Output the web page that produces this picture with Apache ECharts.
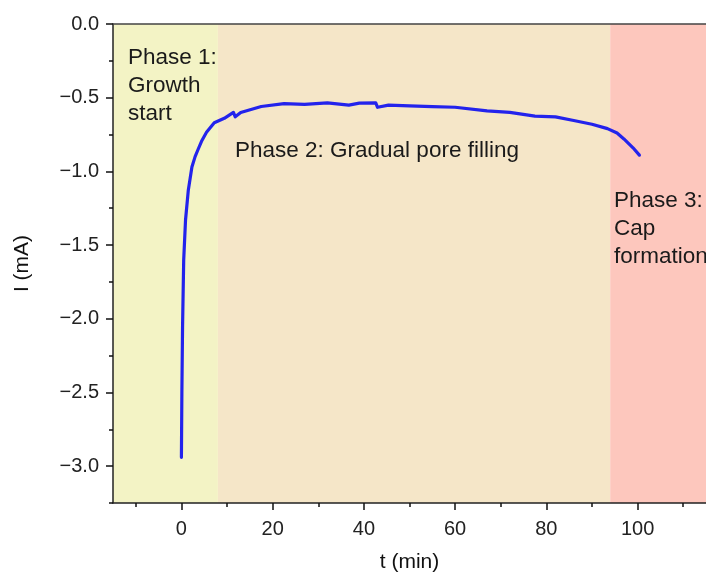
<!DOCTYPE html>
<html>
  <meta charset="UTF-8">
  <title>I(t) - growth phases</title>
  <style type="text/css">
    html,body{margin:0px;height:100%;width:100%;background:#fff}
    #chart{width:706px;height:576px}
  </style>
  <script type="text/javascript" src="https://cdn.jsdelivr.net/npm/echarts@6/dist/echarts.min.js"></script>
  <body>
    <div id="chart"></div>

    <script>
      // time (min) and current (mA)
      var tValues = [0, 0.1, 0.25, 0.5, 0.9, 1.5, 2.3, 3.0, 3.6, 4.5, 5.5, 7.2, 9.4, 11.4, 11.8, 13,
                     17.5, 22.5, 27, 32, 36.7, 39, 42.6, 43, 45.4, 50, 55, 60, 67, 72, 77.5,
                     82, 86, 90, 93.4, 95.5, 97, 99, 100.4];
      var iValues = [-2.94, -2.5, -2.05, -1.6, -1.33, -1.13, -0.97, -0.9, -0.855, -0.79, -0.735, -0.67, -0.64, -0.60, -0.63, -0.60,
                     -0.56, -0.54, -0.545, -0.535, -0.55, -0.537, -0.535, -0.565, -0.55, -0.555, -0.56, -0.565, -0.59, -0.60, -0.625,
                     -0.63, -0.655, -0.68, -0.71, -0.74, -0.78, -0.84, -0.89];

      var xTicks = [0, 20, 40, 60, 80, 100];
      var xMinorTicks = [-10, 10, 30, 50, 70, 90, 110];
      var yTicks = [0, -0.5, -1.0, -1.5, -2.0, -2.5, -3.0];
      var yMinorTicks = [-0.25, -0.75, -1.25, -1.75, -2.25, -2.75, -3.25];

      var phaseBounds = [-15, 8, 94, 115];
      var phaseColors = ['#f3f3c5', '#f5e6c8', '#fdc7bd'];
      var phaseLabels = ['Phase 1:\nGrowth\nstart', 'Phase 2: Gradual pore filling', 'Phase 3:\nCap\nformation'];

      var font = 'Liberation Sans';
      var points = tValues.map(function (t, i) { return [t, iValues[i]]; });

      var chart = echarts.init(document.getElementById('chart'));

      function minus(v) {
        return String(v).replace('-', '\u2212');
      }

      var areas = [];
      for (var k = 0; k < phaseColors.length; k++) {
        areas.push([
          { xAxis: phaseBounds[k], itemStyle: { color: phaseColors[k] } },
          { xAxis: phaseBounds[k + 1] }
        ]);
      }

      var hidden = { show: false };
      var tickStyle = { color: '#111', width: 1.5 };
      var phaseFont = '22.5px ' + font;

      var option = {
        animation: false,
        backgroundColor: '#fff',
        textStyle: { fontFamily: font },
        grid: { left: 113, top: 24, right: 0, bottom: 73, outerBoundsMode: 'none', containLabel: false },
        xAxis: [
          {
            type: 'value', min: -15, max: 115, z: 10, position: 'bottom',
            name: 't (min)', nameLocation: 'middle', nameGap: 49,
            nameTextStyle: { fontSize: 21, color: '#111' },
            axisLine: { onZero: false, lineStyle: { color: '#222', width: 1.5 } },
            axisTick: { customValues: xTicks, length: 7, lineStyle: tickStyle },
            axisLabel: {
              customValues: xTicks, fontSize: 20, color: '#222', margin: 16,
              formatter: function (v) { return minus(v); }
            },
            splitLine: hidden
          },
          {
            // minor ticks
            type: 'value', min: -15, max: 115, position: 'bottom', z: 10,
            axisLine: { show: false, onZero: false }, axisLabel: hidden, splitLine: hidden,
            axisTick: { customValues: xMinorTicks, length: 4, lineStyle: tickStyle }
          },
          {
            // top frame line
            type: 'value', min: -15, max: 115, position: 'top', z: 10,
            axisLine: { onZero: false, lineStyle: { color: '#444', width: 1.5 } },
            axisTick: hidden, axisLabel: hidden, splitLine: hidden
          }
        ],
        yAxis: [
          {
            type: 'value', min: -3.25, max: 0, z: 10, position: 'left',
            name: 'I (mA)', nameLocation: 'middle', nameGap: 80,
            nameTextStyle: { fontSize: 21, color: '#111' },
            axisLine: { show: true, onZero: false, lineStyle: { color: '#222', width: 1.5 } },
            axisTick: { show: true, customValues: yTicks, length: 7, lineStyle: tickStyle },
            axisLabel: {
              customValues: yTicks, fontSize: 20, color: '#222', margin: 14,
              formatter: function (v) { return minus(v.toFixed(1)); }
            },
            splitLine: hidden
          },
          {
            type: 'value', min: -3.25, max: 0, position: 'left', offset: 0, z: 10,
            axisLine: { show: false, onZero: false }, axisLabel: hidden, splitLine: hidden,
            axisTick: { show: true, customValues: yMinorTicks, length: 4, lineStyle: tickStyle }
          }
        ],
        series: [
          {
            type: 'line',
            data: points,
            showSymbol: false,
            lineStyle: { color: '#2323ec', width: 3.2, join: 'round', cap: 'round' },
            z: 3,
            markArea: {
              silent: true,
              data: areas
            }
          }
        ],
        graphic: [
          { type: 'text', left: 128, top: 44, z: 10,
            style: { text: phaseLabels[0], font: phaseFont, fill: '#1a1a1a', lineHeight: 28 } },
          { type: 'text', left: 235, top: 137, z: 10,
            style: { text: phaseLabels[1], font: phaseFont, fill: '#1a1a1a', lineHeight: 28 } },
          { type: 'text', left: 614, top: 187, z: 10,
            style: { text: phaseLabels[2], font: phaseFont, fill: '#1a1a1a', lineHeight: 28 } }
        ]
      };

      chart.setOption(option);
    </script>
  </body>
</html>
